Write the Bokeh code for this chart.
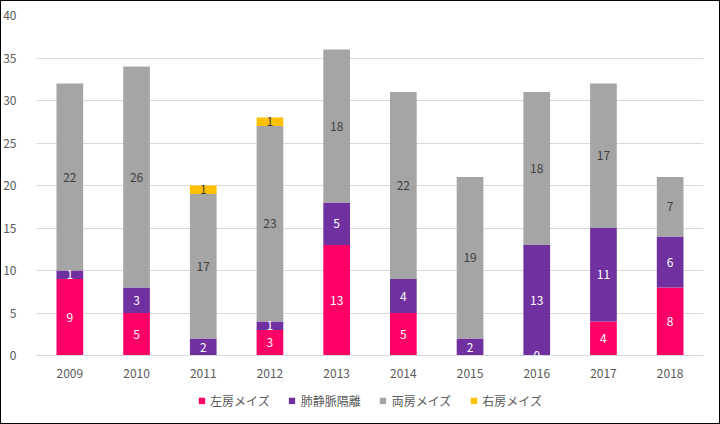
from bokeh.plotting import figure
from bokeh.layouts import column
from bokeh.models import ColumnDataSource, Legend, LegendItem, Range1d, SingleIntervalTicker
from bokeh.core.properties import value
from bokeh.embed import file_html
from bokeh.resources import INLINE

years = ["2009", "2010", "2011", "2012", "2013", "2014", "2015", "2016", "2017", "2018"]
left_atrial = [9, 5, None, 3, 13, 5, None, 0, 4, 8]        # 左房メイズ
pv_isolation = [1, 3, 2, 1, 5, 4, 2, 13, 11, 6]            # 肺静脈隔離
bi_atrial = [22, 26, 17, 23, 18, 22, 19, 18, 17, 7]         # 両房メイズ
right_atrial = [None, None, 1, 1, None, None, None, None, None, None]  # 右房メイズ

series_names = ["左房メイズ", "肺静脈隔離", "両房メイズ", "右房メイズ"]
series_vals = [left_atrial, pv_isolation, bi_atrial, right_atrial]
colors = ["#FF0066", "#7030A0", "#A5A5A5", "#FFC000"]
label_colors = ["#FFFFFF", "#FFFFFF", "#404040", "#404040"]
keys = ["s0", "s1", "s2", "s3"]

data = {"years": years}
for k, vals in zip(keys, series_vals):
    data[k] = [v if v is not None else 0 for v in vals]
src = ColumnDataSource(data)

FONT = "Noto Sans CJK JP"
TXT = "#595959"

p = figure(x_range=years, y_range=Range1d(0, 40),
           frame_width=667, frame_height=340,
           output_backend="svg", toolbar_location=None,
           min_border_left=36, min_border_right=1, min_border_top=15, min_border_bottom=37)
p.outline_line_color = None
p.background_fill_color = None
p.border_fill_color = None

renderers = p.vbar_stack(keys, x="years", width=0.4, color=colors, line_color=None, source=src)

# labels
lx, ly, lt, lc = [], [], [], []
for i, y in enumerate(years):
    base = 0
    for vals, col in zip(series_vals, label_colors):
        v = vals[i]
        if v is None:
            continue
        lx.append(y)
        ly.append(base + v / 2)
        lt.append(str(v))
        lc.append(col)
        base += v
lsrc = ColumnDataSource(dict(x=lx, y=ly, t=lt, c=lc))
p.text(x="x", y="y", text="t", text_color="c", source=lsrc, text_align="center",
       text_baseline="middle", text_font=value(FONT), text_font_size="12px")

p.yaxis.ticker = SingleIntervalTicker(interval=5)
p.ygrid.ticker = SingleIntervalTicker(interval=5)
p.ygrid.grid_line_color = "#D9D9D9"
p.xgrid.grid_line_color = None
p.yaxis.axis_line_color = None
p.yaxis.major_tick_line_color = None
p.yaxis.minor_tick_line_color = None
p.xaxis.axis_line_color = "#D9D9D9"
p.xaxis.major_tick_line_color = None
p.xaxis.minor_tick_line_color = None
for ax in (p.xaxis, p.yaxis):
    ax.major_label_text_font = FONT
    ax.major_label_text_font_size = "12px"
    ax.major_label_text_color = TXT
p.yaxis.major_label_standoff = 14
p.xaxis.major_label_standoff = 7

# legend strip below the chart (swatch renderer sits outside the visible range)
lg = figure(width=704, height=16, x_range=Range1d(0, 1), y_range=Range1d(0, 1),
            x_axis_type=None, y_axis_type=None, output_backend="svg", toolbar_location=None,
            min_border=0)
lg.outline_line_color = None
lg.background_fill_color = None
lg.border_fill_color = None
lg.xgrid.visible = False
lg.ygrid.visible = False
sw_src = ColumnDataSource(dict(name=series_names, color=colors))
sw = lg.quad(left=value(-5), right=value(-4), top=value(-4), bottom=value(-5),
             fill_color="color", line_color=None, source=sw_src)
items = [LegendItem(label=n, renderers=[sw], index=i) for i, n in enumerate(series_names)]
legend = Legend(items=items, orientation="horizontal", location="center",
                label_text_font=FONT, label_text_font_size="12px", label_text_color=TXT,
                glyph_width=8, glyph_height=8, spacing=18, label_standoff=5,
                border_line_color=None, background_fill_alpha=0, margin=0, padding=0,
                label_height=14)
lg.add_layout(legend, "center")

layout = column(p, lg, spacing=0)
layout.styles = {
    "background-color": "#ffffff",
    "box-shadow": "inset 1px 1px 0 0 #000000, 8px 8px 0 7px #ffffff, 8px 8px 0 8px #000000",
}
open("out.html", "w").write(file_html(layout, INLINE))
